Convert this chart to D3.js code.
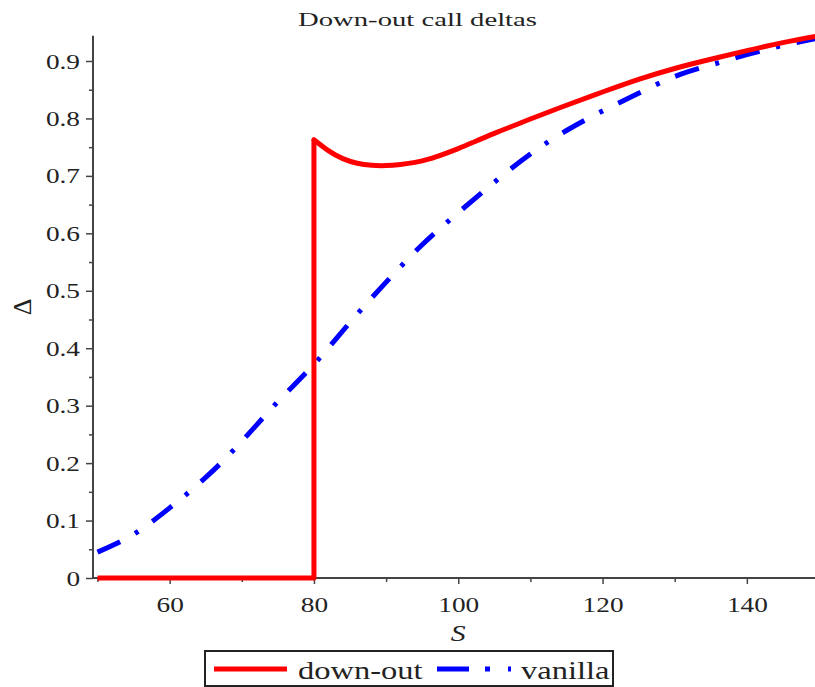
<!DOCTYPE html>
<html>
<head>
<meta charset="utf-8">
<script src="https://cdn.jsdelivr.net/npm/d3@7"></script>
<style>
  body { margin: 0; background: #fff; }
  svg { display: block; font-family: 'Liberation Serif', 'Times New Roman', serif; }
</style>
</head>
<body>
<div id="chart"></div>
<script>
// values
const sVanilla = [50, 55, 60, 65, 70, 75, 80, 85, 90, 95, 100, 105, 110, 115, 120, 125, 130, 135, 140, 145, 150]
const deltaVanilla = [0.045, 0.076, 0.122, 0.175, 0.238, 0.307, 0.372, 0.445, 0.515, 0.58, 0.636,
  0.689, 0.738, 0.779, 0.813, 0.844, 0.873, 0.893, 0.911, 0.927, 0.94]

const sDownOut = [50, 80, 80, 82, 84, 86, 88, 90, 92, 94, 96, 98, 100, 102, 105, 108, 110, 115, 120, 125, 130, 135, 140, 145, 150]
const deltaDownOut = [0, 0, 0.763, 0.744, 0.73, 0.722, 0.7185, 0.718, 0.72, 0.7235, 0.7295, 0.738, 0.7475,
  0.758, 0.774, 0.789, 0.799, 0.823, 0.846, 0.868, 0.887, 0.903, 0.918, 0.932, 0.944]

const xMajor = [60, 80, 100, 120, 140]
const xMinor = [50, 70, 90, 110, 130, 150]
const yMajor = [0, 0.1, 0.2, 0.3, 0.4, 0.5, 0.6, 0.7, 0.8, 0.9]
const yMinor = [0.05, 0.15, 0.25, 0.35, 0.45, 0.55, 0.65, 0.75, 0.85]

const seriesNames = ['down-out', 'vanilla']

const width = 815
const height = 687
const axisX = 93
const stretchK = 1.24
const dash = '25,17,4,17'

const svg = d3
  .select('#chart')
  .append('svg')
  .attr('width', width)
  .attr('height', height)

const x = d3.scaleLinear().domain([50, 150]).range([97.5, 819])
const y = d3.scaleLinear().domain([0, 0.9]).range([578, 61])

// widen text the way the original picture is stretched
function stretch(sel, k) {
  sel.each(function() {
    const w = this.getComputedTextLength()
    d3.select(this)
      .attr('textLength', w * k)
      .attr('lengthAdjust', 'spacingAndGlyphs')
  })
}

// axes
svg
  .append('g')
  .attr('transform', `translate(${axisX},0)`)
  .call(
    d3
      .axisLeft(y)
      .tickValues(yMajor)
      .tickSize(7)
      .tickPadding(6)
      .tickFormat(d => (d === 0 ? '0' : d3.format('.1f')(d)))
  )
svg
  .append('g')
  .attr('transform', `translate(${axisX},0)`)
  .call(d3.axisLeft(y).tickValues(yMinor).tickSize(4).tickFormat(''))

svg
  .append('g')
  .attr('transform', `translate(0,${y(0)})`)
  .call(
    d3
      .axisBottom(x)
      .tickValues(xMajor)
      .tickSize(6)
      .tickPadding(12)
  )
svg
  .append('g')
  .attr('transform', `translate(0,${y(0)})`)
  .call(d3.axisBottom(x).tickValues(xMinor).tickSize(4).tickFormat(''))

svg.selectAll('.domain').remove()
svg.selectAll('.tick line').attr('stroke', '#444').attr('stroke-width', 1.5)
svg
  .selectAll('.tick text')
  .attr('fill', '#222')
  .style('font-size', '22px')
  .style('font-family', "'Liberation Serif', serif")
stretch(svg.selectAll('.tick text'), stretchK)

svg
  .append('line')
  .attr('x1', axisX)
  .attr('x2', axisX)
  .attr('y1', y(0.944))
  .attr('y2', y(0) + 1)
  .attr('stroke', '#444')
  .attr('stroke-width', 2)
svg
  .append('line')
  .attr('x1', axisX)
  .attr('x2', width)
  .attr('y1', y(0))
  .attr('y2', y(0))
  .attr('stroke', '#444')
  .attr('stroke-width', 2)

// title and axis labels
svg
  .append('text')
  .attr('x', 417.5)
  .attr('y', 26)
  .attr('text-anchor', 'middle')
  .attr('textLength', 239)
  .attr('lengthAdjust', 'spacingAndGlyphs')
  .style('font-size', '19px')
  .attr('fill', '#222')
  .text('Down-out call deltas')

const sLabel = svg
  .append('text')
  .attr('x', x(100))
  .attr('y', 641)
  .attr('text-anchor', 'middle')
  .style('font-size', '24px')
  .style('font-style', 'italic')
  .attr('fill', '#222')
  .text('S')
stretch(sLabel, stretchK)

svg
  .append('text')
  .attr('transform', 'translate(31,307) rotate(-90)')
  .attr('text-anchor', 'middle')
  .style('font-size', '26px')
  .attr('fill', '#222')
  .text('Δ')

// curves
const vanillaPts = sVanilla.map((s, i) => [s, deltaVanilla[i]])
const downPts = sDownOut.map((s, i) => [s, deltaDownOut[i]])

const lineLinear = d3
  .line()
  .x(d => x(d[0]))
  .y(d => y(d[1]))
const lineSmooth = d3
  .line()
  .x(d => x(d[0]))
  .y(d => y(d[1]))
  .curve(d3.curveNatural)

svg
  .append('path')
  .attr('d', lineSmooth(vanillaPts))
  .attr('fill', 'none')
  .attr('stroke', '#0000ff')
  .attr('stroke-width', 5)
  .attr('stroke-dasharray', dash)

svg
  .append('path')
  .attr('d', lineLinear(downPts.slice(0, 3)))
  .attr('fill', 'none')
  .attr('stroke', '#ff0000')
  .attr('stroke-width', 5)
  .attr('stroke-linejoin', 'round')

svg
  .append('path')
  .attr('d', lineSmooth(downPts.slice(2)))
  .attr('fill', 'none')
  .attr('stroke', '#ff0000')
  .attr('stroke-width', 5)
  .attr('stroke-linejoin', 'round')
  .attr('stroke-linecap', 'round')

// legend
const legend = svg.append('g').attr('class', 'legend')

legend
  .append('rect')
  .attr('x', 205)
  .attr('y', 651)
  .attr('width', 408)
  .attr('height', 35)
  .attr('fill', 'none')
  .attr('stroke', '#222')
  .attr('stroke-width', 2)

const legendRows = [
  { name: seriesNames[0], color: '#ff0000', dash: null, x1: 214, x2: 287, tx: 298 },
  { name: seriesNames[1], color: '#0000ff', dash: '32,16,5,18,3,40', x1: 437, x2: 512, tx: 521 }
]

legendRows.forEach(d => {
  legend
    .append('line')
    .attr('x1', d.x1)
    .attr('x2', d.x2)
    .attr('y1', 669)
    .attr('y2', 669)
    .attr('stroke', d.color)
    .attr('stroke-width', 5)
    .attr('stroke-dasharray', d.dash)
  const t = legend
    .append('text')
    .attr('x', d.tx)
    .attr('y', 679)
    .style('font-size', '26px')
    .attr('fill', '#222')
    .text(d.name)
  stretch(t, 1.25)
})
</script>
</body>
</html>
